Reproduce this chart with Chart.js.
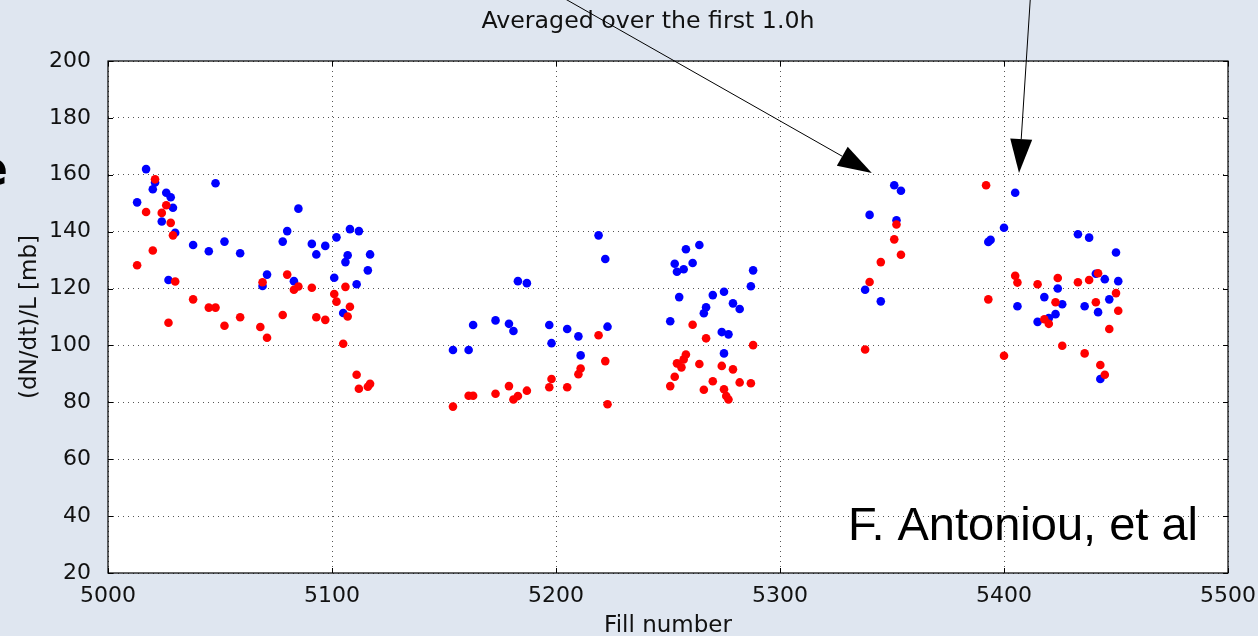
<!DOCTYPE html>
<html>
<head>
<meta charset="utf-8">
<script src="https://cdn.jsdelivr.net/npm/chart.js@4.4.1/dist/chart.umd.min.js"></script>
<style>
  html, body { margin: 0; padding: 0; background: #dfe6f0; }
  canvas { display: block; }
</style>
</head>
<body>
<canvas id="rateChart" width="1258" height="636"></canvas>
<script>
// Fill numbers and loss rates, blue series
const blueFill = [5017, 5021, 5020, 5013, 5026, 5028, 5029, 5024, 5030, 5048, 5038, 5045, 5052, 5059, 5027,
  5085, 5078, 5080, 5091, 5093, 5097, 5102, 5108, 5112, 5117, 5107, 5106, 5116, 5071, 5069, 5083, 5101, 5111, 5105,
  5219, 5222, 5183, 5187, 5163, 5173, 5179, 5181, 5197, 5198, 5205, 5210, 5223, 5211, 5154, 5161,
  5264, 5258, 5253, 5254, 5257, 5261, 5288, 5287, 5255, 5270, 5275, 5279, 5282, 5267, 5266, 5251, 5274, 5277, 5275,
  5351, 5354, 5340, 5352, 5338, 5345, 5405, 5400, 5393, 5394, 5433, 5438, 5450, 5441, 5445, 5451, 5424, 5418,
  5406, 5426, 5436, 5447, 5442, 5423, 5420, 5415, 5443];
const blueRate = [162, 157.3, 154.9, 150.3, 153.7, 152.1, 148.4, 143.6, 139.6, 157, 135.3, 133.1, 136.5, 132.4, 123,
  148.1, 136.5, 140.2, 135.7, 132, 135, 138, 140.9, 140.2, 132, 131.7, 129.3, 126.4, 124.9, 120.9, 122.6, 123.8, 121.5, 111.4,
  138.7, 130.4, 122.6, 121.9, 107.2, 108.8, 107.6, 105.1, 107.2, 100.8, 105.8, 103.2, 106.6, 96.5, 98.4, 98.4,
  135.3, 133.8, 128.7, 125.9, 126.8, 129, 126.4, 120.8, 117, 117.7, 118.9, 114.8, 112.8, 113.4, 111.3, 108.5, 104.7, 103.9, 97.2,
  156.3, 154.4, 145.9, 144, 119.6, 115.5, 153.7, 141.4, 136.4, 137.1, 139.1, 137.9, 132.7, 125.2, 123.3, 122.6, 120, 117,
  113.8, 114.5, 113.8, 116.2, 111.7, 111, 109.6, 108.3, 88.2];

// Red series
const redFill = [5021, 5026, 5017, 5024, 5028, 5029, 5020, 5013, 5030, 5027, 5038, 5045, 5048, 5052, 5059, 5068, 5071,
  5069, 5078, 5080, 5083, 5085, 5091, 5093, 5097, 5101, 5102, 5106, 5108, 5107, 5105, 5111, 5112, 5116, 5117,
  5219, 5222, 5223, 5154, 5161, 5163, 5173, 5179, 5181, 5183, 5187, 5197, 5198, 5205, 5210, 5211,
  5261, 5267, 5288, 5258, 5257, 5254, 5256, 5264, 5274, 5279, 5253, 5251, 5270, 5266, 5275, 5276, 5277, 5282, 5287,
  5392, 5352, 5351, 5354, 5345, 5340, 5338, 5393, 5400, 5405, 5406, 5415, 5424, 5433, 5438, 5442, 5450, 5451,
  5441, 5423, 5418, 5420, 5426, 5436, 5443, 5445, 5447];
const redRate = [158.4, 149.3, 146.9, 146.6, 143.1, 138.7, 133.4, 128.2, 122.5, 108, 116.2, 113.3, 113.3, 106.9, 109.9, 106.5, 102.7,
  122.2, 110.7, 124.9, 119.6, 120.7, 120.3, 109.9, 109, 118.1, 115.4, 120.6, 113.6, 110.2, 100.6, 89.7, 84.8, 85.5, 86.5,
  103.6, 94.5, 79.3, 78.5, 82.3, 82.3, 83, 85.7, 81, 82.2, 84.1, 85.3, 88.2, 85.3, 89.9, 91.9,
  107.3, 102.5, 100.1, 96.8, 95.1, 93.7, 92.3, 93.5, 92.8, 91.6, 89, 85.7, 87.4, 84.4, 84.6, 82.2, 81, 87, 86.7,
  156.3, 142.5, 137.3, 131.9, 129.3, 122.3, 98.6, 116.2, 96.4, 124.5, 122.1, 121.5, 123.7, 122.2, 123, 125.4, 118.4, 112.2,
  115.2, 115.2, 109.2, 107.6, 99.9, 97.2, 93.1, 89.7, 105.8];

// Axis ticks
const xTicks = [5000, 5100, 5200, 5300, 5400, 5500];
const yTicks = [20, 40, 60, 80, 100, 120, 140, 160, 180, 200];

// Annotation arrows (data units): tail above the axes, tip near the points
const arrowTail = [[5197, 225], [5412, 225]];
const arrowTip = [[5341, 160.6], [5406.7, 160.6]];

const titleText = 'Averaged over the first 1.0h';
const xLabel = 'Fill number';
const yLabel = '(dN/dt)/L [mb]';
const creditText = 'F. Antoniou, et al';

const FONT = 'DejaVu Sans';

const toPoints = (xs, ys) => xs.map((x, i) => ({ x, y: ys[i] }));

const decorations = {
  id: 'decorations',
  beforeDraw(chart) {
    const { ctx, chartArea: a } = chart;
    ctx.save();
    ctx.fillStyle = '#dfe6f0';
    ctx.fillRect(0, 0, chart.width, chart.height);
    ctx.fillStyle = '#ffffff';
    ctx.fillRect(a.left, a.top, a.width, a.height);
    ctx.restore();
  },
  afterDraw(chart) {
    const { ctx, chartArea: a, scales: { x, y } } = chart;
    ctx.save();

    // frame + inward tick marks
    ctx.strokeStyle = '#000';
    ctx.lineWidth = 1.2;
    ctx.strokeRect(a.left, a.top, a.width, a.height);
    ctx.lineWidth = 1;
    ctx.beginPath();
    xTicks.forEach(v => {
      const px = Math.round(x.getPixelForValue(v)) + 0.5;
      ctx.moveTo(px, a.bottom); ctx.lineTo(px, a.bottom - 5);
      ctx.moveTo(px, a.top); ctx.lineTo(px, a.top + 5);
    });
    yTicks.forEach(v => {
      const py = Math.round(y.getPixelForValue(v)) + 0.5;
      ctx.moveTo(a.left, py); ctx.lineTo(a.left + 5, py);
      ctx.moveTo(a.right, py); ctx.lineTo(a.right - 5, py);
    });
    ctx.stroke();

    // texts
    const midX = (a.left + a.right) / 2;
    ctx.fillStyle = '#111';
    ctx.textAlign = 'center';
    ctx.textBaseline = 'alphabetic';
    ctx.font = `23.7px "${FONT}"`;
    ctx.fillText(titleText, midX - 20, 28);
    ctx.font = `23px "${FONT}"`;
    ctx.fillText(xLabel, midX, 632);

    ctx.save();
    ctx.translate(36, (a.top + a.bottom) / 2);
    ctx.rotate(-Math.PI / 2);
    ctx.fillText(yLabel, 0, 0);
    ctx.restore();

    ctx.textAlign = 'right';
    ctx.fillStyle = '#000';
    ctx.font = '47px "Liberation Sans"';
    ctx.fillText(creditText, a.right - 30, 540);

    // large letter cut off at the left edge
    ctx.font = `bold 48px "${FONT}"`;
    ctx.fillText('e', 8, 185);

    // arrows
    ctx.strokeStyle = '#000';
    ctx.fillStyle = '#000';
    ctx.lineWidth = 1;
    arrowTail.forEach((t, i) => {
      const x0 = x.getPixelForValue(t[0]), y0 = y.getPixelForValue(t[1]);
      const x1 = x.getPixelForValue(arrowTip[i][0]), y1 = y.getPixelForValue(arrowTip[i][1]);
      const ang = Math.atan2(y1 - y0, x1 - x0);
      const headLen = 34, headHalf = 11;
      const bx = x1 - headLen * Math.cos(ang), by = y1 - headLen * Math.sin(ang);
      ctx.beginPath();
      ctx.moveTo(x0, y0);
      ctx.lineTo(bx, by);
      ctx.stroke();
      ctx.beginPath();
      ctx.moveTo(x1, y1);
      ctx.lineTo(bx + headHalf * Math.sin(ang), by - headHalf * Math.cos(ang));
      ctx.lineTo(bx - headHalf * Math.sin(ang), by + headHalf * Math.cos(ang));
      ctx.closePath();
      ctx.fill();
    });

    ctx.restore();
  }
};

const ctx = document.getElementById('rateChart').getContext('2d');
const rateChart = new Chart(ctx, {
  type: 'scatter',
  data: {
    datasets: [
      { label: 'red', data: toPoints(redFill, redRate), backgroundColor: '#ff0000', order: 0 },
      { label: 'blue', data: toPoints(blueFill, blueRate), backgroundColor: '#0000ff', order: 1 }
    ]
  },
  options: {
    responsive: false,
    devicePixelRatio: 1,
    animation: false,
    layout: { padding: { left: 0, top: 61, right: 30, bottom: 0 } },
    elements: { point: { radius: 4.3, borderWidth: 0, hoverRadius: 4.3 } },
    plugins: { legend: { display: false }, tooltip: { enabled: false } },
    scales: {
      x: {
        type: 'linear',
        min: 5000, max: 5500,
        afterBuildTicks: s => { s.ticks = xTicks.map(v => ({ value: v })); },
        afterFit: s => { s.height = 63; s.paddingLeft = 0; s.paddingRight = 0; },
        ticks: { padding: 10, color: '#111', font: { family: FONT, size: 22 }, callback: v => String(v) },
        grid: { color: '#555', drawTicks: false },
        border: { display: false, dash: [1, 4] }
      },
      y: {
        type: 'linear',
        min: 20, max: 200,
        afterBuildTicks: s => { s.ticks = yTicks.map(v => ({ value: v })); },
        afterFit: s => { s.width = 108; },
        ticks: { padding: 17, color: '#111', font: { family: FONT, size: 22 }, callback: v => String(v) },
        grid: { color: '#555', drawTicks: false },
        border: { display: false, dash: [1, 4] }
      }
    }
  },
  plugins: [decorations]
});
</script>
</body>
</html>
